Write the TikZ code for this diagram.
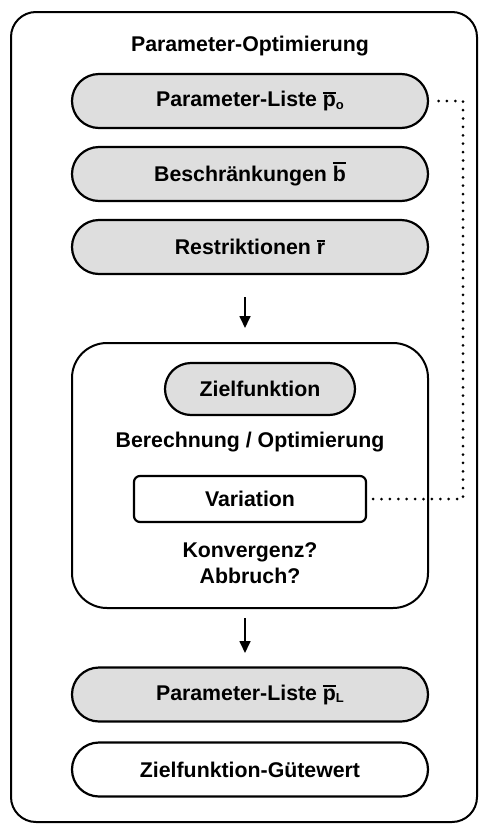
\documentclass[tikz,border=0pt]{standalone}
\usepackage{fontspec}
\setmainfont{Liberation Sans}
\usetikzlibrary{arrows.meta}
% bar over a text letter, subscript in small type
\newcommand\barletter[1]{\leavevmode\vbox{\hrule height 1.8pt\kern1.4pt\hbox{#1}}}
\newcommand\lowidx[1]{{\fontsize{13}{13}\selectfont\raisebox{-2.5pt}{#1}}}
\tikzset{
  label text/.style={font=\fontsize{21.3}{24}\selectfont\bfseries},
  pill/.style={draw, line width=2.2pt, fill=black!13, minimum width=356pt,
    minimum height=54pt, rounded corners=27pt, label text},
  pill white/.style={pill, fill=white},
  framebox/.style={draw, line width=2pt, rounded corners=#1},
  flow/.style={line width=1.7pt, -{Triangle[width=11pt,length=12pt]}},
  link/.style={line width=3pt, line cap=round, dash pattern=on 0pt off 8.4pt},
}
\begin{document}
\begin{tikzpicture}[x=1pt,y=-1pt]
\useasboundingbox (0,0) rectangle (483,825);
% outer frame and title
\node[framebox=25pt, minimum width=466pt, minimum height=810pt] (frame) at (244,417) {};
\node[label text] (title) at (250,46) {Parameter-Optimierung};
% input lists
\node[pill] (p0) at (250,101) {Parameter-Liste \barletter{p}\lowidx{o}};
\node[pill] (b) at (250,174) {Beschränkungen \barletter{b}};
\node[pill] (r) at (250,247) {Restriktionen \barletter{r}};
% optimisation block
\node[framebox=35pt, minimum width=356pt, minimum height=265pt] (opt) at (250,475.5) {};
\node[draw, line width=2.2pt, fill=black!13, minimum width=190pt, minimum height=52pt,
  rounded corners=26pt, label text] (ziel) at (260,389) {Zielfunktion};
\node[label text] (berech) at (250,442) {Berechnung / Optimierung};
\node[draw, line width=2.2pt, fill=white, minimum width=232pt, minimum height=46pt,
  rounded corners=6pt, label text] (var) at (250,499) {Variation};
\node[label text] (konv) at (250,552) {Konvergenz?};
\node[label text] (abbr) at (250,576) {Abbruch?};
% results
\node[pill] (pL) at (250,694.5) {Parameter-Liste \barletter{p}\lowidx{L}};
\node[pill white] (guete) at (250,769.5) {Zielfunktion-Gütewert};
% flow arrows
\coordinate (a1s) at (245,297);
\coordinate (a1e) at (245,328);
\coordinate (a2s) at (245,618);
\coordinate (a2e) at (245,653);
\draw[flow] (a1s) -- (a1e);
\draw[flow] (a2s) -- (a2e);
% feedback link from the variation back to the parameter list
\coordinate (turn) at (463,499);
\draw[link, shorten <=6pt, shorten >=5pt] (var.east) -- (turn) |- (p0.east);
\end{tikzpicture}
\end{document}
